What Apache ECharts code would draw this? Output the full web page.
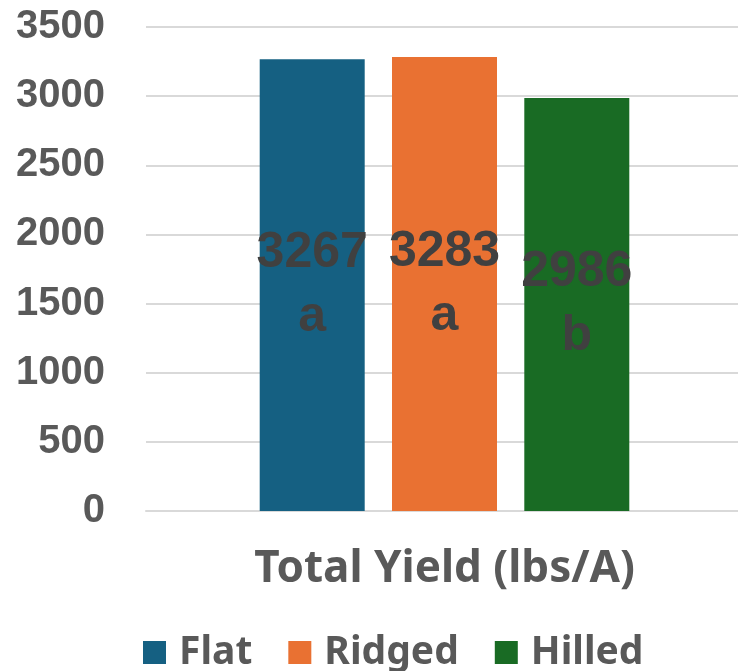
<!DOCTYPE html>
<html>
<head>
    <meta charset="utf-8">
    <title>Total Yield</title>
    <script src="https://cdn.jsdelivr.net/npm/echarts@6/dist/echarts.min.js"></script>
    <style>
        html, body { margin: 0; padding: 0; background: #fff; }
    </style>
</head>
<body>
    <div id="main" style="width: 738px;height:671px;"></div>
    <script type="text/javascript">
    var categories = ['Total Yield (lbs/A)'];
    var seriesNames = ['Flat', 'Ridged', 'Hilled'];
    var seriesValues = [[3267], [3283], [2986]];
    var seriesLetters = ['a', 'a', 'b'];
    var colors = ['#156082', '#E97132', '#196B24'];
    var yTicks = { min: 0, max: 3500, interval: 500 };

    var myChart = echarts.init(document.getElementById('main'));

    var series = seriesNames.map(function (name, i) {
        return {
            name: name,
            type: 'bar',
            data: seriesValues[i],
            barWidth: 105,
            barGap: '26%',
            itemStyle: { color: colors[i] },
            label: {
                show: true,
                position: 'inside',
                fontFamily: 'Liberation Sans, Arial, sans-serif',
                fontWeight: 'bold',
                fontSize: 50,
                lineHeight: 64,
                color: '#404040',
                formatter: function (p) {
                    return p.value + '\n' + seriesLetters[i];
                }
            }
        };
    });

    var option = {
        animation: false,
        color: colors,
        grid: {
            left: 146,
            right: -5,
            top: 27,
            bottom: 160,
            containLabel: false,
            outerBoundsMode: 'none'
        },
        legend: {
            data: seriesNames,
            bottom: -6,
            left: 138,
            icon: 'rect',
            itemWidth: 23,
            itemHeight: 23,
            itemGap: 36,
            textStyle: {
                fontFamily: 'Noto Sans, sans-serif',
                fontWeight: 'bold',
                fontSize: 39,
                color: '#595959',
                padding: [0, 0, 0, 8]
            }
        },
        xAxis: {
            type: 'category',
            data: categories,
            axisTick: { show: false },
            axisLine: { lineStyle: { color: '#d9d9d9', width: 2 } },
            axisLabel: {
                margin: 36,
                fontFamily: 'Noto Sans, sans-serif',
                fontWeight: 'bold',
                fontSize: 44,
                color: '#595959'
            }
        },
        yAxis: {
            type: 'value',
            min: yTicks.min,
            max: yTicks.max,
            interval: yTicks.interval,
            axisLine: { show: false },
            axisTick: { show: false },
            splitLine: { lineStyle: { color: '#d9d9d9', width: 2 } },
            axisLabel: {
                margin: 41,
                fontFamily: 'Liberation Sans, Arial, sans-serif',
                fontWeight: 'bold',
                fontSize: 40,
                color: '#595959',
                formatter: function (v) { return String(v); }
            }
        },
        series: series
    };

    myChart.setOption(option);
    </script>
</body>
</html>
